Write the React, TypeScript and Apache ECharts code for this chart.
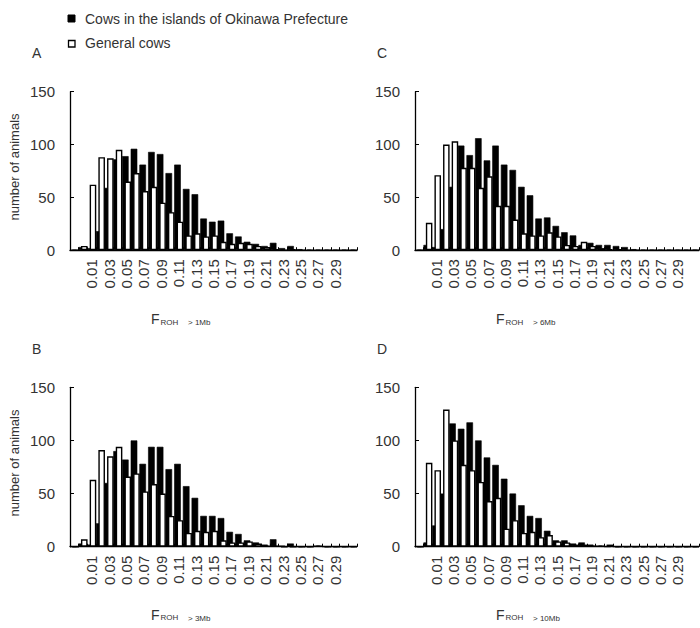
import React, { useEffect, useRef } from "react";
import * as echarts from "echarts";

const CATEGORIES = [
  "", "0.00", "0.01", "0.02", "0.03", "0.04", "0.05", "0.06", "0.07", "0.08", "0.09",
  "0.10", "0.11", "0.12", "0.13", "0.14", "0.15", "0.16", "0.17", "0.18", "0.19",
  "0.20", "0.21", "0.22", "0.23", "0.24", "0.25", "0.26", "0.27", "0.28", "0.29",
  "0.30", "0.31",
];
const SHOWN_LABELS = [
  "0.01", "0.03", "0.05", "0.07", "0.09", "0.11", "0.13", "0.15",
  "0.17", "0.19", "0.21", "0.23", "0.25", "0.27", "0.29",
];
const Y_TICKS = [0, 50, 100, 150];

const SERIES_OKINAWA = "Cows in the islands of Okinawa Prefecture";
const SERIES_GENERAL = "General cows";

// Panel A : F_ROH > 1Mb
const A_OKINAWA = [0, 3, 2, 18, 59, 86, 89, 96, 81, 93, 91, 73, 81, 58, 53, 30, 27, 28, 16, 13, 8, 6, 4, 7, 2, 4, 1, 0, 0, 0, 0, 0, 0];
const A_GENERAL = [0, 4, 62, 88, 87, 95, 65, 73, 56, 60, 45, 36, 27, 14, 16, 13, 14, 8, 6, 7, 6, 4, 3, 1, 0, 1, 0, 0, 0, 0, 0, 0, 0];
// Panel B : F_ROH > 3Mb
const B_OKINAWA = [0, 3, 2, 22, 60, 90, 82, 100, 78, 94, 94, 73, 78, 57, 46, 29, 29, 27, 14, 12, 6, 4, 2, 7, 1, 3, 0, 0, 1, 0, 0, 0, 0];
const B_GENERAL = [0, 7, 63, 91, 85, 94, 66, 69, 52, 59, 50, 29, 25, 13, 15, 14, 15, 6, 4, 4, 5, 3, 1, 1, 0, 0, 0, 0, 1, 0, 0, 0, 0];
// Panel C : F_ROH > 6Mb
const C_OKINAWA = [0, 5, 3, 20, 60, 99, 90, 106, 85, 99, 81, 76, 60, 52, 30, 31, 23, 17, 14, 5, 7, 5, 5, 4, 3, 1, 0, 0, 0, 0, 0, 0, 0];
const C_GENERAL = [0, 26, 71, 100, 103, 78, 78, 59, 70, 42, 42, 29, 16, 14, 14, 17, 13, 5, 4, 8, 4, 2, 1, 1, 0, 0, 0, 0, 0, 0, 0, 0, 0];
// Panel D : F_ROH > 10Mb
const D_OKINAWA = [0, 4, 20, 50, 116, 111, 117, 100, 84, 77, 64, 50, 39, 29, 27, 15, 6, 6, 3, 4, 2, 1, 0, 0, 0, 0, 0, 0, 0, 0, 0, 0, 0];
const D_GENERAL = [0, 79, 72, 129, 100, 77, 72, 61, 43, 46, 17, 25, 13, 14, 9, 11, 5, 4, 2, 2, 1, 1, 2, 0, 0, 0, 0, 0, 0, 0, 0, 0, 0];

const FONT = "'Liberation Sans', Arial, sans-serif";
const TEXT = "#333";

const PANELS = [
  { letter: "A", suffix: "> 1Mb", okinawa: A_OKINAWA, general: A_GENERAL, left: 70, top: 91.7, width: 287, height: 158.5, yTitle: true },
  { letter: "C", suffix: "> 6Mb", okinawa: C_OKINAWA, general: C_GENERAL, left: 415, top: 91.7, width: 284, height: 158.5, yTitle: false },
  { letter: "B", suffix: "> 3Mb", okinawa: B_OKINAWA, general: B_GENERAL, left: 70, top: 387.3, width: 287, height: 159.4, yTitle: true },
  { letter: "D", suffix: "> 10Mb", okinawa: D_OKINAWA, general: D_GENERAL, left: 415, top: 387.3, width: 284, height: 159.4, yTitle: false },
];

function buildOption() {
  const grid: any[] = [];
  const xAxis: any[] = [];
  const yAxis: any[] = [];
  const series: any[] = [];
  const graphic: any[] = [];

  PANELS.forEach((p, i) => {
    grid.push({ left: p.left, top: p.top, width: p.width, height: p.height, containLabel: false });
    xAxis.push({
      type: "category",
      gridIndex: i,
      data: CATEGORIES,
      boundaryGap: true,
      axisLine: { show: true, lineStyle: { color: "#000", width: 1.3 } },
      axisTick: { show: true, inside: true, length: 3, interval: 0, lineStyle: { color: "#000", width: 1 } },
      axisLabel: {
        interval: (_idx: number, value: string) => SHOWN_LABELS.includes(value),
        rotate: 90,
        margin: 9,
        fontSize: 15,
        fontFamily: FONT,
        color: TEXT,
      },
      splitLine: { show: false },
    });
    yAxis.push({
      type: "value",
      gridIndex: i,
      min: Y_TICKS[0],
      max: Y_TICKS[Y_TICKS.length - 1],
      interval: 50,
      axisLine: { show: true, lineStyle: { color: "#000", width: 1.3 } },
      axisTick: { show: true, inside: true, length: 4, lineStyle: { color: "#000", width: 1 } },
      axisLabel: { fontSize: 15, fontFamily: FONT, color: TEXT, margin: 15 },
      splitLine: { show: false },
    });
    series.push({
      type: "bar",
      name: SERIES_OKINAWA,
      xAxisIndex: i,
      yAxisIndex: i,
      data: p.okinawa,
      barWidth: "76%",
      barGap: "-63%",
      itemStyle: { color: "#000", borderColor: "#000", borderWidth: 0.6 },
    });
    series.push({
      type: "bar",
      name: SERIES_GENERAL,
      xAxisIndex: i,
      yAxisIndex: i,
      data: p.general,
      barWidth: "76%",
      barGap: "-63%",
      itemStyle: { color: "#fff", borderColor: "#000", borderWidth: 1.4 },
    });

    const offX = p.left - 70;
    const offY = p.top - 91.7;
    // panel letter
    graphic.push({
      type: "text",
      x: 32 + offX,
      y: 53 + offY,
      style: { text: p.letter, fontSize: 14, fontFamily: FONT, fill: TEXT, align: "left", verticalAlign: "middle" },
    });
    // x axis title
    const fx = 151 + offX;
    const fy = 319 + offY;
    graphic.push({
      type: "text", x: fx, y: fy,
      style: { text: "F", fontSize: 14, fontFamily: FONT, fill: TEXT, align: "left", verticalAlign: "middle" },
    });
    graphic.push({
      type: "text", x: fx + 9.5, y: fy + 3,
      style: { text: "ROH", fontSize: 8, fontFamily: FONT, fill: TEXT, align: "left", verticalAlign: "middle" },
    });
    graphic.push({
      type: "text", x: fx + 37, y: fy + 3.5,
      style: { text: p.suffix, fontSize: 8, fontFamily: FONT, fill: TEXT, align: "left", verticalAlign: "middle" },
    });
    if (p.yTitle) {
      graphic.push({
        type: "text",
        x: 14,
        y: p.top + p.height / 2 - 4,
        rotation: Math.PI / 2,
        style: { text: "number of animals", fontSize: 13, fontFamily: FONT, fill: TEXT, align: "center", verticalAlign: "middle" },
      });
    }
  });

  // legend
  graphic.push({ type: "rect", x: 68, y: 15, shape: { width: 7, height: 7 }, style: { fill: "#000", stroke: "#000", lineWidth: 1 } });
  graphic.push({ type: "text", x: 85, y: 18.5, style: { text: SERIES_OKINAWA, fontSize: 14, fontFamily: FONT, fill: TEXT, align: "left", verticalAlign: "middle" } });
  graphic.push({ type: "rect", x: 68.5, y: 40.5, shape: { width: 6.5, height: 6.5 }, style: { fill: "#fff", stroke: "#000", lineWidth: 1.3 } });
  graphic.push({ type: "text", x: 85, y: 43, style: { text: SERIES_GENERAL, fontSize: 14, fontFamily: FONT, fill: TEXT, align: "left", verticalAlign: "middle" } });

  return {
    animation: false,
    backgroundColor: "#fff",
    textStyle: { fontFamily: FONT },
    grid,
    xAxis,
    yAxis,
    series,
    graphic,
  };
}

export default function App() {
  const ref = useRef<HTMLDivElement>(null);
  useEffect(() => {
    if (!ref.current) return;
    const chart = echarts.init(ref.current, undefined, { renderer: "svg" });
    chart.setOption(buildOption());
    return () => chart.dispose();
  }, []);
  return (
    <div
      ref={ref}
      style={{ position: "fixed", left: 0, top: 0, width: 700, height: 628, background: "#fff" }}
    />
  );
}
